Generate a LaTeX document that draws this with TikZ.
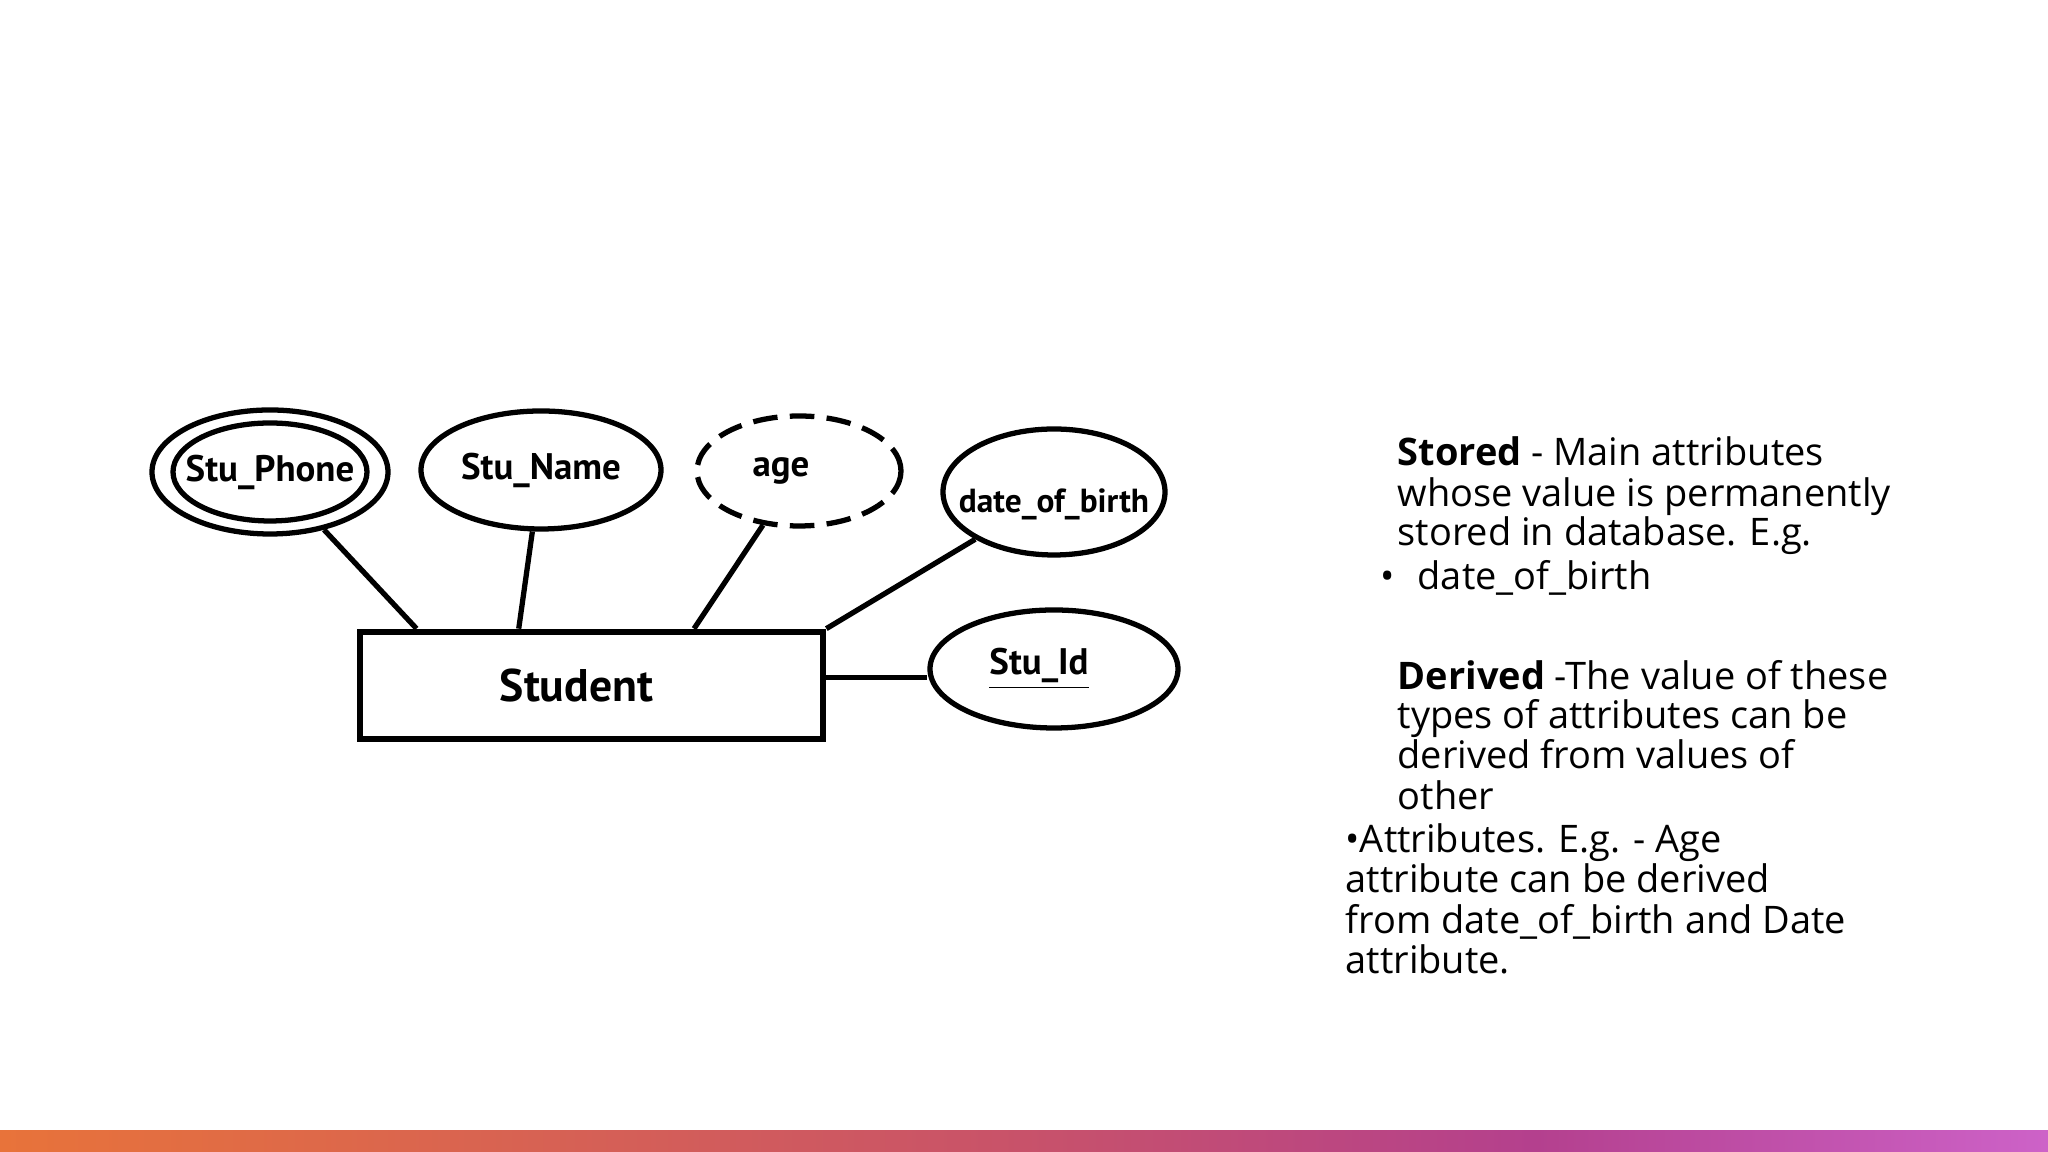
\documentclass[tikz,border=0pt]{standalone}
\usepackage{fontspec}
\setmainfont{Open Sans}
\newfontfamily\erfont{PT Sans}
\usetikzlibrary{shapes.geometric}

\definecolor{barA}{HTML}{E8733A}
\definecolor{barB}{HTML}{C8526A}
\definecolor{barC}{HTML}{B4408E}
\definecolor{barD}{HTML}{CD62C8}
\pgfdeclarehorizontalshading{slidebar}{100bp}{color(0bp)=(barA); color(25bp)=(barA); color(50bp)=(barB); color(62.5bp)=(barC); color(75bp)=(barD); color(100bp)=(barD)}

\newcommand{\erlabel}[1]{\makebox[0pt]{#1}}

\tikzset{
  attr/.style={draw, ellipse, line width=1.5pt, inner sep=0pt, font=\erfont\bfseries\fontsize{10.5}{12}\selectfont},
  entity/.style={draw, rectangle, line width=1.9pt, inner sep=0pt, font=\erfont\bfseries\fontsize{13}{15}\selectfont},
  link/.style={line width=1.5pt},
  slidetext/.style={anchor=base west, inner sep=0pt, font=\fontsize{10.8}{13}\selectfont}
}

\begin{document}
\begin{tikzpicture}
  \useasboundingbox (0, 0) rectangle (20.48, 11.52) ;
  \fill[white] (0, 0) rectangle (20.48, 11.52) ;

  \node[entity, minimum width=4.63cm, minimum height=1.07cm] (student) at (5.915, 4.665) {\hspace*{-3mm}Student} ;

  \node[attr, minimum width=1.94cm, minimum height=0.98cm] (phone) at (2.70, 6.80) {\erlabel{Stu\_Phone}} ;
  \node[attr, minimum width=2.36cm, minimum height=1.24cm] (phoneout) at (phone) {} ;
  \node[attr, minimum width=2.40cm, minimum height=1.18cm] (name) at (5.41, 6.82) {\erlabel{Stu\_Name}} ;
  \node[attr, dash pattern=on 7pt off 3.5pt, minimum width=2.04cm, minimum height=1.10cm] (age) at (7.99, 6.81) {\erlabel{\hspace*{-3.6mm}age}} ;
  \node[attr, font=\erfont\bfseries\fontsize{9.5}{11}\selectfont, minimum width=2.22cm, minimum height=1.26cm] (dob) at (10.54, 6.60) {\erlabel{\raisebox{-2.1mm}[0pt][0pt]{date\_of\_birth}}} ;
  \node[attr, minimum width=2.48cm, minimum height=1.18cm] (sid) at (10.54, 4.83) {\erlabel{\hspace*{-3mm}\raisebox{1mm}{\underline{Stu\_Id}}}} ;

  \draw[link] (phoneout) -- (student.162) ;
  \draw[link] (name) -- (student.142) ;
  \draw[link] (age) -- (student.29.5) ;
  \draw[link] (dob) -- (student.north east) ;
  \draw[link] (student.2.6) -- (student.2.6 -| sid.west) ;

  \foreach \ty/\tline [count=\i] in {6.86/{\textbf{Stored} - Main attributes}, 6.45/{whose value is permanently}, 6.06/{stored in database. E.g.}} {
    \node[slidetext] (stored-\i) at (13.97, \ty) {\tline} ;
  }
  \node[slidetext] (storedbullet) at (13.80, 5.62) {•} ;
  \node[slidetext] (storedeg) at (14.17, 5.62) {date\_of\_birth} ;

  \foreach \ty/\tline [count=\i] in {4.62/{\textbf{Derived} -The value of these}, 4.23/{types of attributes can be}, 3.83/{derived from values of}, 3.42/{other}} {
    \node[slidetext] (derived-\i) at (13.97, \ty) {\tline} ;
  }
  \foreach \ty/\tline [count=\i] in {2.99/{•Attributes. E.g. - Age}, 2.59/{attribute can be derived}, 2.18/{from date\_of\_birth and Date}, 1.78/{attribute.}} {
    \node[slidetext] (derivedeg-\i) at (13.45, \ty) {\tline} ;
  }

  \shade[shading=slidebar] (0, 0) rectangle (20.48, 0.21) ;
\end{tikzpicture}
\end{document}
